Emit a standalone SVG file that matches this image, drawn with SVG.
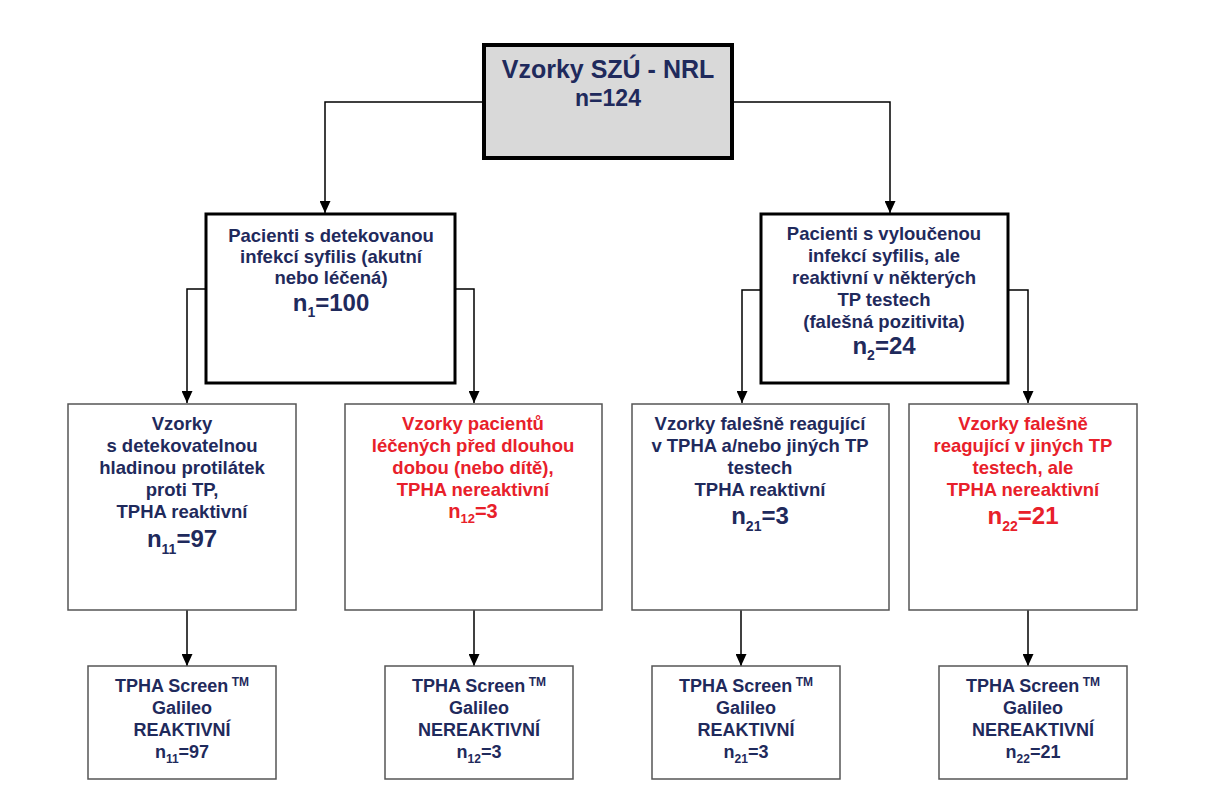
<svg xmlns="http://www.w3.org/2000/svg" width="1222" height="800" viewBox="0 0 1222 800">
<defs>
<marker id="ah" markerWidth="12" markerHeight="11" refX="12" refY="5.5" orient="auto" markerUnits="userSpaceOnUse" viewBox="0 0 12 11"><path d="M0,0 L12,5.5 L0,11 z" fill="#000"/></marker>
<style>
text{font-family:"Liberation Sans",Arial,sans-serif;font-weight:bold;text-anchor:middle;fill:#1f2a5c}
.r{fill:#e8202a}
.t{font-size:18.5px}
.n{font-size:24px}
.b{font-size:18px}
.thin{fill:#fff;stroke:#555;stroke-width:1.5}
.thick{fill:#fff;stroke:#000;stroke-width:3}
.c{fill:none;stroke:#000;stroke-width:1.5}
</style>
</defs>
<rect width="1222" height="800" fill="#fff"/>
<g id="connectors">
<path class="c" d="M483,102 H325 V213" marker-end="url(#ah)"/>
<path class="c" d="M733,102 H890 V213" marker-end="url(#ah)"/>
<path class="c" d="M206,289 H187 V403" marker-end="url(#ah)"/>
<path class="c" d="M455,289 H474 V403" marker-end="url(#ah)"/>
<path class="c" d="M761,290 H742 V403" marker-end="url(#ah)"/>
<path class="c" d="M1008,290 H1028 V403" marker-end="url(#ah)"/>
<path class="c" d="M187,610 V666" marker-end="url(#ah)"/>
<path class="c" d="M474,610 V666" marker-end="url(#ah)"/>
<path class="c" d="M741,610 V666" marker-end="url(#ah)"/>
<path class="c" d="M1028,610 V666" marker-end="url(#ah)"/>
</g>
<g id="root">
<rect x="484" y="45" width="248" height="113" fill="#d9d9d9" stroke="#000" stroke-width="4"/>
<text x="608" y="78" style="font-size:25px">Vzorky SZÚ - NRL</text>
<text x="608" y="106" style="font-size:23px">n=124</text>
</g>
<g id="left">
<rect class="thick" x="206" y="214" width="249" height="169"/>
<text class="t" x="331" y="242">Pacienti s detekovanou</text>
<text class="t" x="331" y="263">infekcí syfilis (akutní</text>
<text class="t" x="331" y="284">nebo léčená)</text>
<text class="n" x="331" y="311">n<tspan dy="6" style="font-size:14px">1</tspan><tspan dy="-6">=100</tspan></text>
</g>
<g id="right">
<rect class="thick" x="761" y="214" width="247" height="169"/>
<text class="t" x="884" y="240">Pacienti s vyloučenou</text>
<text class="t" x="884" y="262">infekcí syfilis, ale</text>
<text class="t" x="884" y="284">reaktivní v některých</text>
<text class="t" x="884" y="306">TP testech</text>
<text class="t" x="884" y="328">(falešná pozitivita)</text>
<text class="n" x="884" y="354">n<tspan dy="6" style="font-size:14px">2</tspan><tspan dy="-6">=24</tspan></text>
</g>
<g id="midA">
<rect class="thin" x="68" y="404" width="228" height="206"/>
<text class="t" x="182" y="430">Vzorky</text>
<text class="t" x="182" y="452">s detekovatelnou</text>
<text class="t" x="182" y="474">hladinou protilátek</text>
<text class="t" x="182" y="496">proti TP,</text>
<text class="t" x="182" y="518">TPHA reaktivní</text>
<text class="n" x="182" y="547">n<tspan dy="7" style="font-size:14px">11</tspan><tspan dy="-7">=97</tspan></text>
</g>
<g id="midB">
<rect class="thin" x="345" y="404" width="257" height="206"/>
<text class="t r" x="473" y="430">Vzorky pacientů</text>
<text class="t r" x="473" y="452">léčených před dlouhou</text>
<text class="t r" x="473" y="474">dobou (nebo dítě),</text>
<text class="t r" x="473" y="496">TPHA nereaktivní</text>
<text class="r" x="473" y="518" style="font-size:20px">n<tspan dy="5" style="font-size:13px">12</tspan><tspan dy="-5">=3</tspan></text>
</g>
<g id="midC">
<rect class="thin" x="632" y="404" width="257" height="206"/>
<text class="t" x="760" y="430">Vzorky falešně reagující</text>
<text class="t" x="760" y="452">v TPHA a/nebo jiných TP</text>
<text class="t" x="760" y="474">testech</text>
<text class="t" x="760" y="496">TPHA reaktivní</text>
<text class="n" x="760" y="524">n<tspan dy="7" style="font-size:14px">21</tspan><tspan dy="-7">=3</tspan></text>
</g>
<g id="midD">
<rect class="thin" x="909" y="404" width="228" height="206"/>
<text class="t r" x="1023" y="430">Vzorky falešně</text>
<text class="t r" x="1023" y="452">reagující v jiných TP</text>
<text class="t r" x="1023" y="474">testech, ale</text>
<text class="t r" x="1023" y="496">TPHA nereaktivní</text>
<text class="n r" x="1023" y="524">n<tspan dy="7" style="font-size:14px">22</tspan><tspan dy="-7">=21</tspan></text>
</g>
<g id="botA">
<rect class="thin" x="88" y="666" width="188" height="113"/>
<text class="b" x="182" y="692">TPHA Screen<tspan dy="-6" style="font-size:12px"> TM</tspan></text>
<text class="b" x="182" y="714">Galileo</text>
<text class="b" x="182" y="736">REAKTIVNÍ</text>
<text class="b" x="182" y="758">n<tspan dy="5" style="font-size:12px">11</tspan><tspan dy="-5">=97</tspan></text>
</g>
<g id="botB">
<rect class="thin" x="385" y="666" width="188" height="113"/>
<text class="b" x="479" y="692">TPHA Screen<tspan dy="-6" style="font-size:12px"> TM</tspan></text>
<text class="b" x="479" y="714">Galileo</text>
<text class="b" x="479" y="736">NEREAKTIVNÍ</text>
<text class="b" x="479" y="758">n<tspan dy="5" style="font-size:12px">12</tspan><tspan dy="-5">=3</tspan></text>
</g>
<g id="botC">
<rect class="thin" x="652" y="666" width="188" height="113"/>
<text class="b" x="746" y="692">TPHA Screen<tspan dy="-6" style="font-size:12px"> TM</tspan></text>
<text class="b" x="746" y="714">Galileo</text>
<text class="b" x="746" y="736">REAKTIVNÍ</text>
<text class="b" x="746" y="758">n<tspan dy="5" style="font-size:12px">21</tspan><tspan dy="-5">=3</tspan></text>
</g>
<g id="botD">
<rect class="thin" x="939" y="666" width="188" height="113"/>
<text class="b" x="1033" y="692">TPHA Screen<tspan dy="-6" style="font-size:12px"> TM</tspan></text>
<text class="b" x="1033" y="714">Galileo</text>
<text class="b" x="1033" y="736">NEREAKTIVNÍ</text>
<text class="b" x="1033" y="758">n<tspan dy="5" style="font-size:12px">22</tspan><tspan dy="-5">=21</tspan></text>
</g>
</svg>
